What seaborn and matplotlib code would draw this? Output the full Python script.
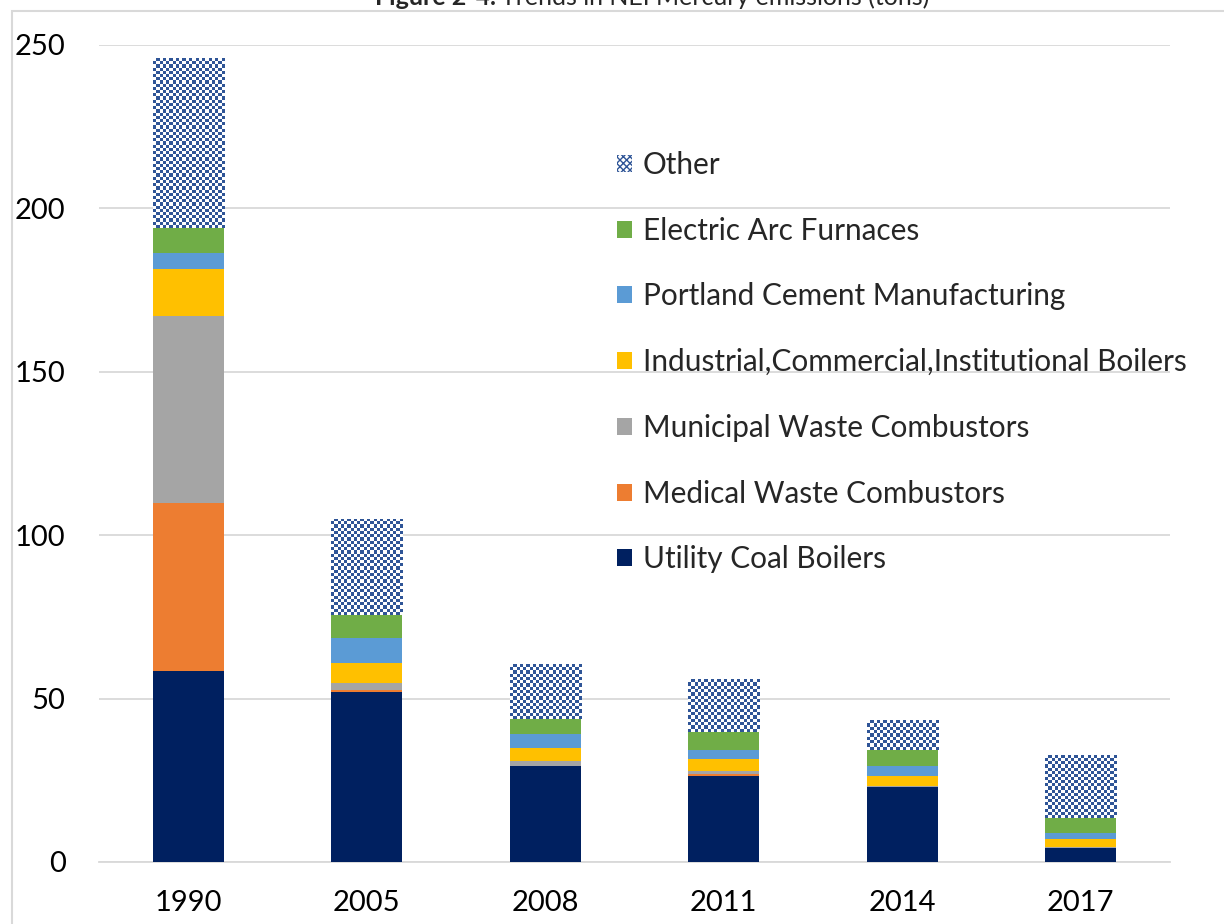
import numpy as np
import pandas as pd
import matplotlib.pyplot as plt
import seaborn as sns
from matplotlib.colors import ListedColormap
from matplotlib.patches import Patch, Rectangle

# data (tons)
years = ["1990", "2005", "2008", "2011", "2014", "2017"]
utility_coal = [58.5, 52.0, 29.4, 26.4, 22.8, 4.4]
medical_waste = [51.3, 0.5, 0.1, 0.5, 0.1, 0.0]
municipal_waste = [57.4, 2.2, 1.4, 0.9, 0.3, 0.1]
ici_boilers = [14.3, 6.3, 3.9, 3.7, 3.0, 2.5]
portland_cement = [5.0, 7.6, 4.3, 2.9, 3.3, 1.8]
electric_arc = [7.6, 6.9, 4.7, 5.5, 4.9, 4.8]
other = [51.9, 29.5, 16.8, 16.1, 9.1, 19.1]

series = [
    ("Utility Coal Boilers", utility_coal, "#002060"),
    ("Medical Waste Combustors", medical_waste, "#ED7D31"),
    ("Municipal Waste Combustors", municipal_waste, "#A5A5A5"),
    ("Industrial,Commercial,Institutional Boilers", ici_boilers, "#FFC000"),
    ("Portland Cement Manufacturing", portland_cement, "#5B9BD5"),
    ("Electric Arc Furnaces", electric_arc, "#70AD47"),
    ("Other", other, "#2F5597"),
]

sns.set_style("white")
plt.rcParams["font.family"] = ["Lato", "DejaVu Sans"]

fig = plt.figure(figsize=(12.24, 9.24), dpi=100)
ax = fig.add_axes([99 / 1224, 62 / 924, 1071 / 1224, 817 / 924])

# stacked bars, one seaborn call per source
df = pd.DataFrame({"year": years})
bottom = np.zeros(len(years))
for name, vals, col in series:
    df[name] = vals
    fc = "white" if name == "Other" else col
    sns.barplot(data=df, x="year", y=name, color=fc, width=0.4, bottom=bottom,
                ax=ax, linewidth=0, saturation=1, zorder=3)
    bottom = bottom + np.array(vals)

ax.set_xlim(-0.5, len(years) - 0.5)
ax.set_ylim(0, 250)

# checkerboard fill for "Other" (Excel pattern)
checker = ListedColormap(["white", "#2F5597"])
other_bars = ax.containers[-1]
for rect in other_bars:
    x0, y0 = rect.get_x(), rect.get_y()
    w, h = rect.get_width(), rect.get_height()
    p0 = ax.transData.transform((x0, y0))
    p1 = ax.transData.transform((x0 + w, y0 + h))
    nx = max(1, int(round((p1[0] - p0[0]) / 3.2)))
    ny = max(1, int(round((p1[1] - p0[1]) / 3.2)))
    grid = np.indices((ny, nx)).sum(axis=0) % 2
    im = ax.imshow(grid, cmap=checker, extent=(x0, x0 + w, y0, y0 + h),
                   aspect="auto", interpolation="nearest", zorder=4)
    im.set_clip_path(rect)

ax.set_xlim(-0.5, len(years) - 0.5)
ax.set_ylim(0, 250)
ax.set_yticks([0, 50, 100, 150, 200, 250])
ax.set_xlabel("")
ax.set_ylabel("")
ax.grid(axis="y", color="#D9D9D9", linewidth=1.3, zorder=0)
ax.set_axisbelow(True)
for s in ["left", "right", "top"]:
    ax.spines[s].set_visible(False)
ax.spines["bottom"].set_color("#D9D9D9")
ax.spines["bottom"].set_linewidth(1.3)
ax.tick_params(axis="both", length=0, labelsize=21, colors="#000000")
ax.tick_params(axis="y", pad=24)
ax.tick_params(axis="x", pad=20)

# legend, Other on top
handles = []
for name, vals, col in reversed(series):
    if name == "Other":
        handles.append(Patch(facecolor="white", edgecolor=col, hatch="xxxxx",
                             linewidth=0, label=name))
    else:
        handles.append(Patch(facecolor=col, linewidth=0, label=name))
leg = ax.legend(handles=handles, loc="upper left", frameon=False,
                bbox_to_anchor=(617 / 1224, 1 - 151 / 924),
                bbox_transform=fig.transFigure, fontsize=21.4,
                handlelength=0.5, handleheight=0.5, handletextpad=0.37,
                labelspacing=1.27, borderpad=0, borderaxespad=0)

# chart frame (left and top edges visible)
fig.add_artist(Rectangle((11.5 / 1224, -0.1), 1.2, 1.1 - 11.5 / 924,
                         transform=fig.transFigure, fill=False,
                         edgecolor="#D9D9D9", linewidth=1.5))

# title, mostly cut off at the top edge (as in the source image)
fig.text(496 / 1224, 1 - 5 / 924, "Figure 2-4.", fontsize=18, fontweight="bold",
         ha="right", va="baseline")
fig.text(501 / 1224, 1 - 5 / 924, "Trends in NEI Mercury emissions (tons)",
         fontsize=18, ha="left", va="baseline")

plt.savefig("out.png", dpi=100)
